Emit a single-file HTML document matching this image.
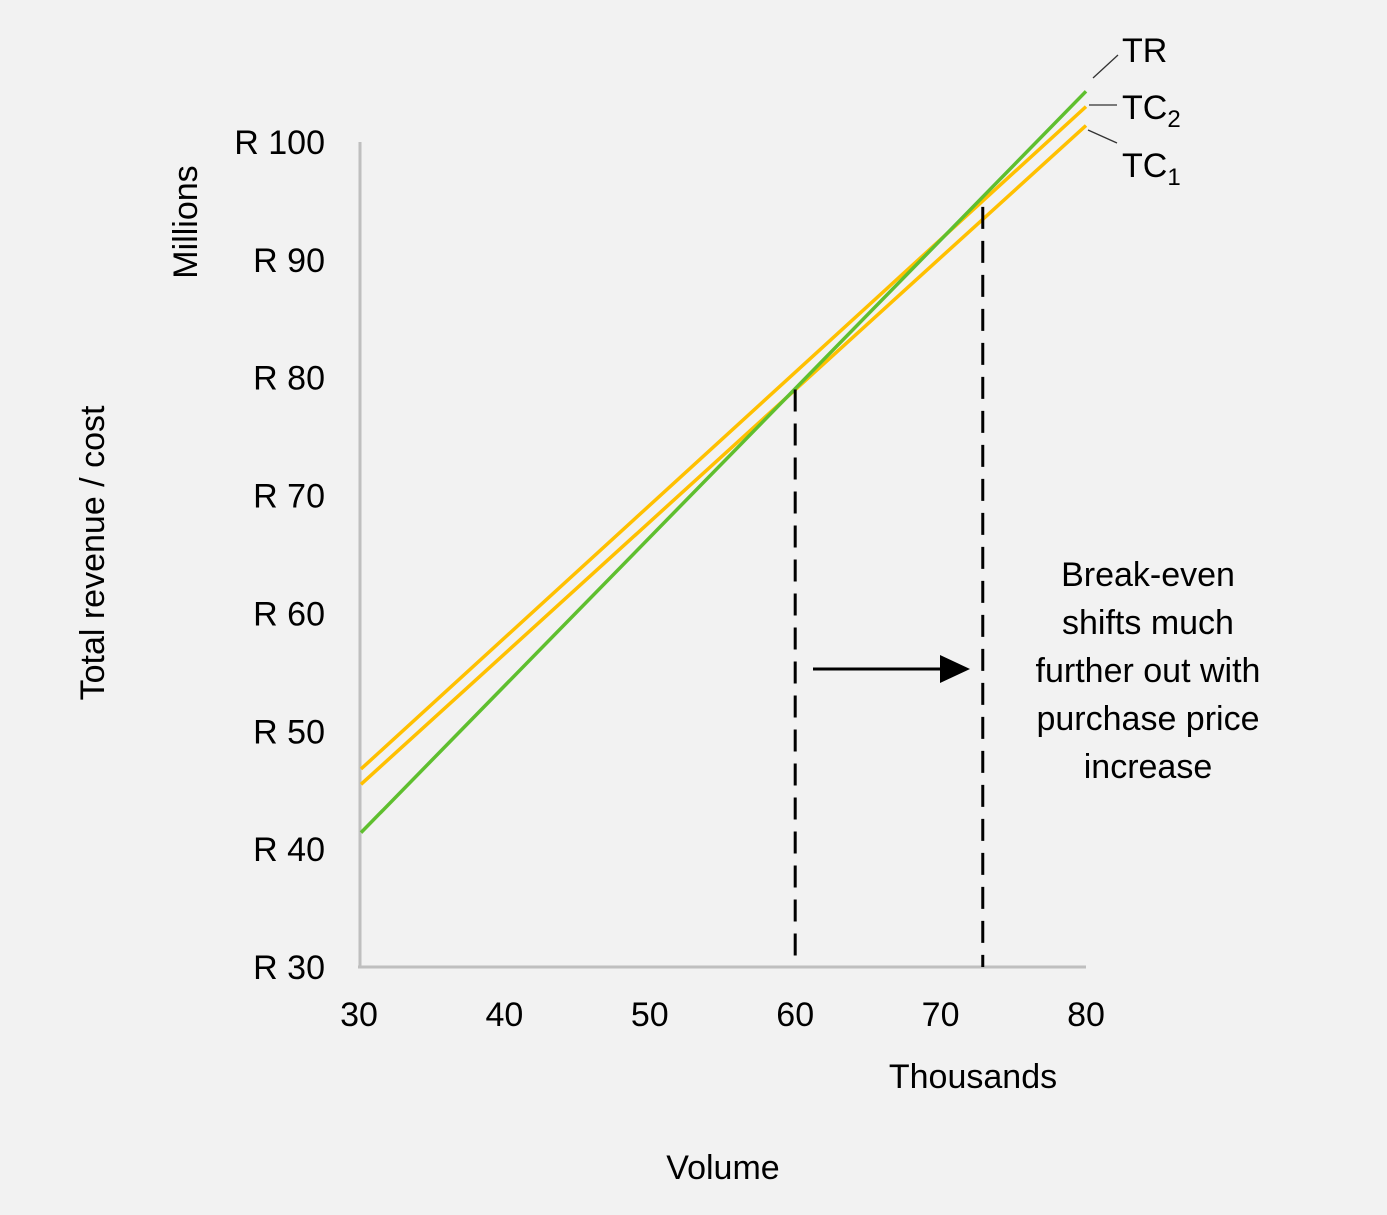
<!DOCTYPE html>
<html><head><meta charset="utf-8"><style>
body{margin:0;background:#f2f2f2;}
svg{display:block;font-family:"Liberation Sans",Arial,sans-serif;}
</style></head><body>
<svg id="chart" width="1387" height="1215" viewBox="0 0 1387 1215">
<rect width="1387" height="1215" fill="#f2f2f2"/>
<g id="ylabels"></g>
<g id="xlabels"></g>
<line x1="360" y1="142" x2="360" y2="968" stroke="#bfbfbf" stroke-width="3"/>
<line x1="358" y1="967" x2="1086" y2="967" stroke="#bfbfbf" stroke-width="3"/>
<g id="series"></g>
<g id="dashes"></g>
<text x="197" y="222" font-size="34" text-anchor="middle" transform="rotate(-90 197 222)" fill="#000">Millions</text>
<text x="104" y="553" font-size="34" text-anchor="middle" transform="rotate(-90 104 553)" fill="#000">Total revenue / cost</text>
<text x="973" y="1088" font-size="34" text-anchor="middle" fill="#000">Thousands</text>
<text x="723" y="1179" font-size="34" text-anchor="middle" fill="#000">Volume</text>
<line x1="1093" y1="78" x2="1118" y2="55" stroke="#333" stroke-width="1.3"/>
<line x1="1089" y1="105" x2="1117" y2="105" stroke="#333" stroke-width="1.3"/>
<line x1="1088" y1="130" x2="1117" y2="143" stroke="#333" stroke-width="1.3"/>
<text x="1122" y="62" font-size="34">TR</text>
<text x="1122" y="119" font-size="34">TC<tspan font-size="24" dy="8">2</tspan></text>
<text x="1122" y="177" font-size="34">TC<tspan font-size="24" dy="8">1</tspan></text>
<line x1="813" y1="669" x2="945" y2="669" stroke="#000" stroke-width="3"/>
<polygon points="940,655 970,669 940,683" fill="#000"/>
<g font-size="34" text-anchor="middle" fill="#000">
<text x="1148" y="586">Break-even</text>
<text x="1148" y="634">shifts much</text>
<text x="1148" y="682">further out with</text>
<text x="1148" y="730">purchase price</text>
<text x="1148" y="778">increase</text>
</g>
</svg>
<script>
const xTicks=[30,40,50,60,70,80];
const yTicks=[30,40,50,60,70,80,90,100];
const seriesNames=["TC2","TC1","TR"];
const startX=[30,30,30];
const endX=[80,80,80];
const startY=[46.8,45.5,41.4];
const endY=[103.0,101.4,104.3];
const colors=["#ffc000","#ffc000","#5fbf2f"];
const breakEvenX=[60,72.9];
const breakEvenY=[79.0,94.5];
const sx=v=>359+(v-30)*(1086-359)/50;
const sy=v=>967-(v-30)*(967-142)/70;
const NS="http://www.w3.org/2000/svg";
const mk=(t,a,p)=>{const e=document.createElementNS(NS,t);for(const k in a)e.setAttribute(k,a[k]);p.appendChild(e);return e;};
const yl=document.getElementById('ylabels');
yTicks.forEach(v=>{const t=mk('text',{x:325,y:sy(v)+12,'font-size':34,'text-anchor':'end'},yl);t.textContent='R '+v;

});
const xl=document.getElementById('xlabels');
xTicks.forEach(v=>{const t=mk('text',{x:sx(v),y:1026,'font-size':34,'text-anchor':'middle'},xl);t.textContent=v;

});
const sg=document.getElementById('series');
seriesNames.forEach((n,i)=>{const l=mk('line',{x1:sx(startX[i])+2,y1:sy(startY[i]),x2:sx(endX[i]),y2:sy(endY[i]),stroke:colors[i],'stroke-width':3.5},sg);

});
const dg=document.getElementById('dashes');
breakEvenX.forEach((v,i)=>{const l=mk('line',{x1:sx(v),y1:sy(breakEvenY[i]),x2:sx(v),y2:967,stroke:'#000','stroke-width':3,'stroke-dasharray':'22,12'},dg);

});
</script>
</body></html>
